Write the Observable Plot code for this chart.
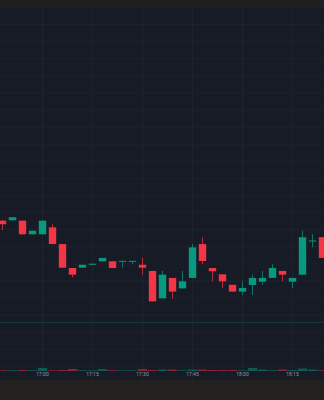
<!DOCTYPE html>
<html><head><meta charset="utf-8">
<script src="https://cdn.jsdelivr.net/npm/d3@7"></script>
<script src="https://cdn.jsdelivr.net/npm/@observablehq/plot@0.6"></script>
<style>
html,body{margin:0;padding:0;background:#222120;overflow:hidden;}
#top{height:8px;background:#1f1f1f;}
#chart{height:372px;background:#171b26;}
#bottom{height:20px;background:#222120;}
svg{display:block;}
</style></head><body>
<div id="top"></div><div id="chart"></div><div id="bottom"></div>
<script>
// ---- data ----
const times = ["16:48","16:51","16:54","16:57","17:00","17:03","17:06","17:09","17:12","17:15","17:18",
  "17:21","17:24","17:27","17:30","17:33","17:36","17:39","17:42","17:45","17:48","17:51","17:54",
  "17:57","18:00","18:03","18:06","18:09","18:12","18:15","18:18","18:21","18:24"];
const open  = [108.50,108.52,108.50,107.70,107.70,108.11,107.13,105.73,105.75,105.92,106.12,
  106.12,106.09,106.09,105.92,105.56,103.96,105.15,104.54,105.15,107.13,105.73,105.36,
  104.75,104.35,104.74,104.93,105.15,105.56,104.93,105.34,107.28,107.53];
const high  = [108.55,108.70,108.50,107.91,108.50,108.30,107.13,105.73,105.92,105.98,106.32,
  106.12,106.15,106.15,106.32,105.56,105.56,105.15,105.56,107.13,107.53,105.73,105.36,
  104.75,104.95,105.34,105.56,105.95,105.56,105.15,107.91,107.72,107.53];
const low   = [107.95,108.52,107.70,107.70,107.70,107.13,105.75,105.19,105.75,105.92,106.12,
  105.73,105.75,105.95,105.34,103.78,103.96,103.96,104.54,105.15,105.95,104.95,104.56,
  104.35,104.15,104.15,104.75,105.15,104.95,104.56,105.34,106.94,106.32];
const close = [108.29,108.70,107.70,107.91,108.50,107.13,105.75,105.34,105.92,105.98,106.32,
  105.73,106.15,106.15,105.75,103.78,105.34,104.35,104.95,106.94,106.14,105.54,104.95,
  104.35,104.56,105.15,105.15,105.73,105.34,105.15,107.53,107.34,106.32];
const volume = [80,80,100,80,300,70,100,200,80,70,200,
  80,70,70,200,100,150,150,80,150,150,100,100,
  100,80,300,150,80,150,100,250,150,80];
const xTicks = ["17:00","17:15","17:30","17:45","18:00","18:15"];
const priceGrid = [100,101,102,103,104,105,106,107,108,109,110,111,112,113,114,115,116,117,118,119,120];
const markerPrice = 102.57;

// ---- layout ----
const DAY = "2024-03-04";
const parse = s => new Date(`${DAY}T${s.length === 5 ? s + ":00" : s}Z`);
const W = 324, H = 372;
const GREEN = "#089981", RED = "#f23645";
const yRange = [358, 16];          // price 100 -> 358, price 120 -> 16
const volBasePx = 363, volPxPerUnit = 1 / 100;
const yS = d3.scaleLinear([100, 120], yRange);
const volTop = v => yS.invert(volBasePx - v * volPxPerUnit);
const volBase = yS.invert(volBasePx);

const data = times.map((t, i) => ({
  time: parse(t), open: open[i], high: high[i], low: low[i], close: close[i], volume: volume[i],
  up: close[i] >= open[i]
}));
const col = d => d.up ? GREEN : RED;

const chart = Plot.plot({
  width: W, height: H,
  margin: 0,
  style: {background: "#171b26", overflow: "hidden"},
  x: {type: "utc", domain: [parse("16:47:24"), parse("18:24:36")], range: [0, W], axis: null},
  y: {domain: [100, 120], range: yRange, axis: null},
  marks: [
    Plot.gridX(xTicks.map(parse), {stroke: "#2a2e39", strokeOpacity: 0.4}),
    Plot.gridY(priceGrid, {stroke: "#2a2e39", strokeOpacity: 0.35}),
    Plot.ruleY([markerPrice], {stroke: GREEN, strokeOpacity: 0.25}),
    // volume
    Plot.ruleX(data, {x: "time", y1: () => volBase, y2: d => volTop(d.volume), stroke: col, strokeOpacity: 0.5, strokeWidth: 9.4}),
    // wicks
    Plot.ruleX(data, {x: "time", y1: "low", y2: "high", stroke: col, strokeOpacity: 0.7, strokeWidth: 1}),
    // bodies
    Plot.ruleX(data, {x: "time", y1: "open", y2: "close", stroke: col, strokeWidth: 7.4}),
    // time labels
    Plot.text(xTicks, {x: d => parse(d), text: d => d, frameAnchor: "bottom", dy: -4.5,
      fontSize: 5, fill: "#b2b5be", fillOpacity: 0.85, fontFamily: "Roboto, sans-serif"})
  ]
});
document.getElementById("chart").appendChild(chart);
</script>
</body></html>
